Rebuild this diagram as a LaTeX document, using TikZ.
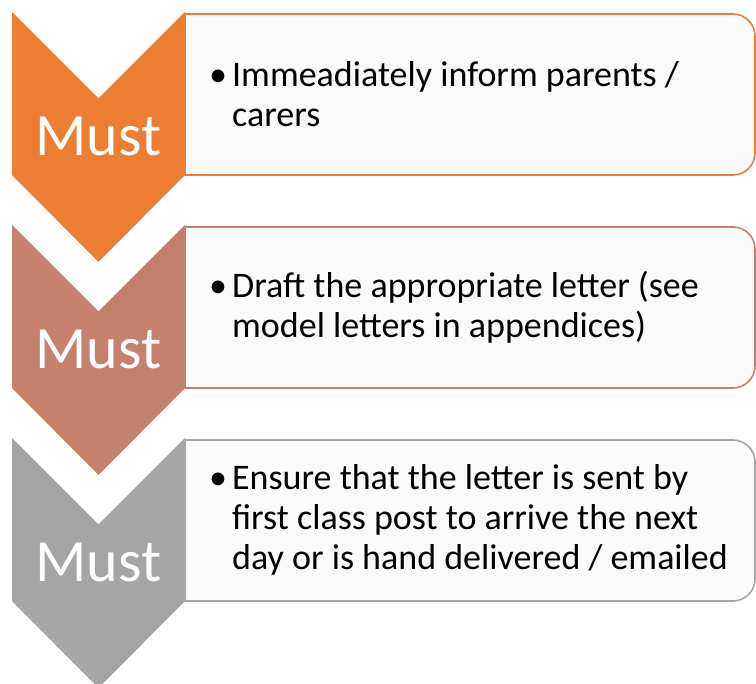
\documentclass[tikz,border=0pt]{standalone}
\usepackage{fontspec}
\setmainfont{Carlito}
\definecolor{mustorange}{HTML}{ED7D31}
\definecolor{mustrose}{HTML}{C5806F}
\definecolor{mustgray}{HTML}{A5A5A5}
\begin{document}
\begin{tikzpicture}[x=1pt, y=-1pt,
  chev/.style = {fill=#1},
  box/.style = {draw=#1, line width=1.6pt, fill=white!98!black},
  must/.style = {text=white, font=\fontsize{60}{70}\selectfont, anchor=base, inner sep=0pt},
  item/.style = {anchor=west, inner sep=0pt, font=\fontsize{36}{40}\selectfont}]
\useasboundingbox (0,0) rectangle (756,684);
\foreach \i/\col/\txt in {0/mustorange/{Immeadiately inform parents /\\carers},
                          1/mustrose/{Draft the appropriate letter (see\\model letters in appendices)},
                          2/mustgray/{Ensure that the letter is sent by\\first class post to arrive the next\\day or is hand delivered / emailed}} {
  \pgfmathsetmacro{\t}{12+213*\i}
  % chevron
  \fill[chev=\col] (12,\t) -- (98.5,\t+86.5) -- (185,\t) -- (185,\t+163)
     -- (98.5,\t+250) -- (12,\t+163) -- cycle;
  % box with rounded right side
  \draw[box=\col] (185,\t+2) -- (733,\t+2) arc[start angle=-90, end angle=0, radius=22]
     -- (755,\t+141) arc[start angle=0, end angle=90, radius=22] -- (185,\t+163) -- cycle;
  \node[must] (m\i) at (98.5,\t+144) {Must};
  \node[item] (t\i) at (209,\t+82) {\makebox[23pt][l]{\textbullet}\parbox[t]{520pt}{\txt}};
}
\end{tikzpicture}
\end{document}
